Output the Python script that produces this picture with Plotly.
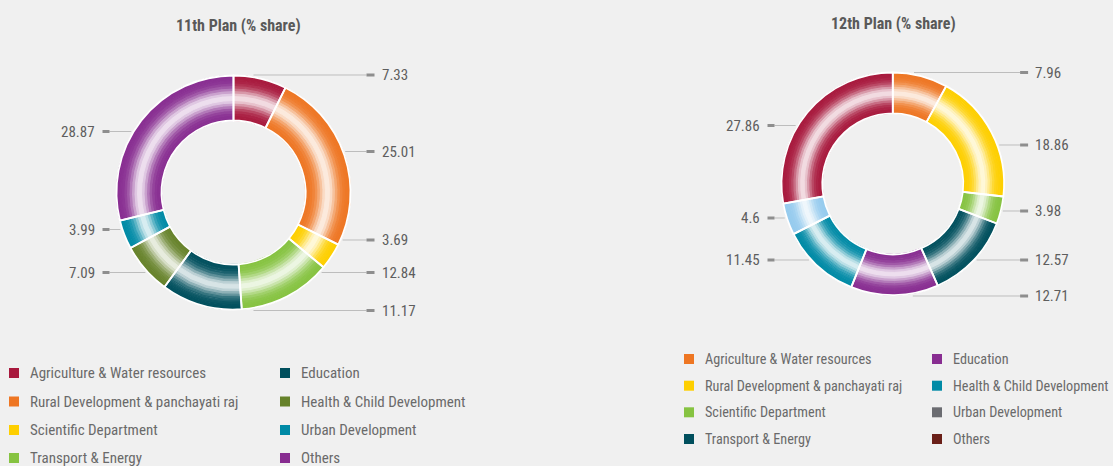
import math
import plotly.graph_objects as go

W, H = 1113, 466
BG = "#f0f0f0"
FONT = "'Liberation Sans Narrow', 'Roboto Condensed', Roboto, 'DejaVu Sans Condensed', sans-serif"

# ---------------- data ----------------
categories = [
    "Agriculture & Water resources",
    "Rural Development & panchayati raj",
    "Scientific Department",
    "Transport & Energy",
    "Education",
    "Health & Child Development",
    "Urban Development",
    "Others",
]
plan11_values = [7.33, 25.01, 3.69, 12.84, 11.17, 7.09, 3.99, 28.87]
plan12_values = [7.96, 18.86, 3.98, 12.57, 12.71, 11.45, 4.6, 27.86]
plan11_title = "11th Plan (% share)"
plan12_title = "12th Plan (% share)"

# ---------------- styles ----------------
CRIMSON = "#a8193d"
ORANGE = "#ee7623"
YELLOW = "#fecf00"
LGREEN = "#86c341"
DTEAL = "#004f5d"
OLIVE = "#66822a"
TEAL = "#008aa6"
PURPLE = "#882d91"
GRAY = "#6b6c71"
BROWN = "#6a1f18"
LBLUE = "#95cbee"

plan11_slice_colors = [CRIMSON, ORANGE, YELLOW, LGREEN, DTEAL, OLIVE, TEAL, PURPLE]
plan11_legend_colors = [CRIMSON, ORANGE, YELLOW, LGREEN, DTEAL, OLIVE, TEAL, PURPLE]
plan12_slice_colors = [ORANGE, YELLOW, LGREEN, DTEAL, PURPLE, TEAL, LBLUE, CRIMSON]
plan12_legend_colors = [ORANGE, YELLOW, LGREEN, DTEAL, PURPLE, TEAL, GRAY, BROWN]

# layout: (side, label y in px) per slice
plan11_label_pos = [("r", 75), ("r", 151.5), ("r", 240), ("r", 272.5), ("r", 310.5),
                    ("l", 272.5), ("l", 229.5), ("l", 131.5)]
plan12_label_pos = [("r", 72.5), ("r", 145), ("r", 211), ("r", 260), ("r", 296),
                    ("l", 260), ("l", 218), ("l", 125.5)]

DONUT11 = dict(cx=233.5, cy=192.5, r_out=117.0, r_in=72.0)
DONUT12 = dict(cx=892.8, cy=183.8, r_out=111.3, r_in=70.5)

LEG11 = dict(x0=14, x1=285, ys=[373, 401.5, 430, 458], size=15)
LEG12 = dict(x0=689, x1=937, ys=[359, 385.7, 412.3, 439], size=14.2)


def hex_to_rgb(h):
    h = h.lstrip("#")
    return tuple(int(h[i:i + 2], 16) for i in (0, 2, 4))


def mix(c, w):
    r, g, b = hex_to_rgb(c)
    return "rgb(%d,%d,%d)" % (round(r + (255 - r) * w), round(g + (255 - g) * w), round(b + (255 - b) * w))


fig = go.Figure()


def add_donut(values, colors, cx, cy, r_out, r_in, n=18):
    for k in range(n):
        ri = r_in + (r_out - r_in) * k / n
        ro = r_in + (r_out - r_in) * (k + 1) / n
        t = (k + 0.5) / n
        w = 0.86 * math.exp(-((t - 0.5) / 0.21) ** 2)
        cols = [mix(c, w) for c in colors]
        fig.add_trace(go.Pie(
            values=values, labels=categories, sort=False, direction="clockwise", rotation=0,
            hole=ri / ro,
            domain=dict(x=[(cx - ro) / W, (cx + ro) / W], y=[1 - (cy + ro) / H, 1 - (cy - ro) / H]),
            marker=dict(colors=cols, line=dict(color=cols, width=1)),
            textinfo="none", hoverinfo="skip", showlegend=False,
        ))
    # white separators
    fig.add_trace(go.Pie(
        values=values, labels=categories, sort=False, direction="clockwise", rotation=0,
        hole=r_in / r_out,
        domain=dict(x=[(cx - r_out) / W, (cx + r_out) / W], y=[1 - (cy + r_out) / H, 1 - (cy - r_out) / H]),
        marker=dict(colors=["rgba(0,0,0,0)"] * len(values), line=dict(color="white", width=1.8)),
        textinfo="none", hoverinfo="skip", showlegend=False,
    ))


def add_labels(values, pos, cx, cy, r_out, r_in):
    rr = r_out + 2
    for v, (side, y) in zip(values, pos):
        dy = y - cy
        off = math.sqrt(max(rr * rr - dy * dy, 0.0))
        off = max(off, 20)
        if side == "r":
            xs = cx + off
            d0, d1 = cx + r_out + 16, cx + r_out + 24
            tx, anchor = cx + r_out + 29, "left"
            line_x = [xs, d0]
        else:
            xs = cx - off
            d0, d1 = cx - r_out - 14, cx - r_out - 7
            tx, anchor = cx - r_out - 20, "right"
            line_x = [d1, xs]
        fig.add_trace(go.Scatter(x=line_x, y=[y, y], mode="lines", line=dict(color="#bdbdbd", width=1),
                                 hoverinfo="skip", showlegend=False))
        fig.add_trace(go.Scatter(x=[d0, d1], y=[y, y], mode="lines", line=dict(color="#8e8e8e", width=3),
                                 hoverinfo="skip", showlegend=False))
        fig.add_annotation(x=tx, y=y, xref="x", yref="y", text=f"{v:g}", showarrow=False,
                           xanchor=anchor, yanchor="middle",
                           font=dict(family=FONT, size=15, color="#5e5e5e"))


def add_legend(colors, leg):
    for i, (name, col) in enumerate(zip(categories, colors)):
        colx = leg["x0"] if i < 4 else leg["x1"]
        y = leg["ys"][i % 4]
        fig.add_trace(go.Scatter(x=[colx], y=[y], mode="markers",
                                 marker=dict(symbol="square", size=10, color=col, line=dict(width=0)),
                                 hoverinfo="skip", showlegend=False))
        fig.add_annotation(x=colx + 14, y=y, xref="x", yref="y", text=name, showarrow=False,
                           xanchor="left", yanchor="middle",
                           font=dict(family=FONT, size=leg["size"], color="#6a6a6a"))


add_donut(plan11_values, plan11_slice_colors, **DONUT11)
add_donut(plan12_values, plan12_slice_colors, **DONUT12)
add_labels(plan11_values, plan11_label_pos, **DONUT11)
add_labels(plan12_values, plan12_label_pos, **DONUT12)
add_legend(plan11_legend_colors, LEG11)
add_legend(plan12_legend_colors, LEG12)

fig.add_annotation(x=238, y=25, xref="x", yref="y", text="<b>" + plan11_title + "</b>", showarrow=False,
                   xanchor="center", yanchor="middle", font=dict(family=FONT, size=16, color="#595959"))
fig.add_annotation(x=893, y=23, xref="x", yref="y", text="<b>" + plan12_title + "</b>", showarrow=False,
                   xanchor="center", yanchor="middle", font=dict(family=FONT, size=16, color="#595959"))

fig.update_layout(
    width=W, height=H, autosize=False,
    margin=dict(l=0, r=0, t=0, b=0, pad=0),
    paper_bgcolor=BG, plot_bgcolor=BG,
    xaxis=dict(range=[0, W], visible=False, fixedrange=True, domain=[0, 1]),
    yaxis=dict(range=[H, 0], visible=False, fixedrange=True, domain=[0, 1]),
    showlegend=False,
    font=dict(family=FONT),
)

fig.write_html(
    "out.html",
    config={"displayModeBar": False},
    post_script="document.body.style.margin='0';document.body.style.overflow='hidden';",
)
